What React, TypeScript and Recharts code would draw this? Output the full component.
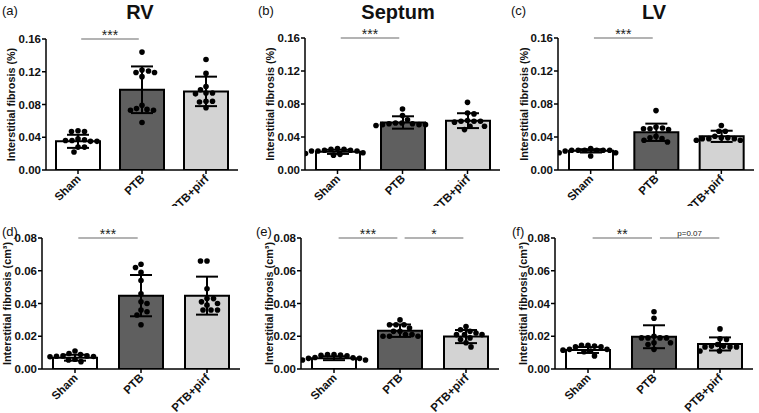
import React from 'react';
import { ComposedChart, Bar, Cell, ErrorBar, Scatter, XAxis, YAxis, ReferenceLine } from 'recharts';

const GROUPS = ['Sham', 'PTB', 'PTB+pirf'];
const BAR_FILLS = ['#ffffff', '#5f5f5f', '#d3d3d3'];

const PCT_TICKS = [0, 0.04, 0.08, 0.12, 0.16];
const VOL_TICKS = [0, 0.02, 0.04, 0.06, 0.08];

// (a) RV, interstitial fibrosis (%)
const rvPctMean = [0.035, 0.098, 0.096];
const rvPctSd = [0.008, 0.0285, 0.018];
const rvPctSham = [0.048, 0.047, 0.047, 0.038, 0.037, 0.035, 0.036, 0.036, 0.035, 0.028, 0.028, 0.022];
const rvPctPtb = [0.144, 0.122, 0.119, 0.119, 0.114, 0.121, 0.079, 0.074, 0.073, 0.073, 0.075, 0.058];
const rvPctPirf = [0.135, 0.118, 0.102, 0.098, 0.094, 0.093, 0.094, 0.084, 0.083, 0.084, 0.076];

// (b) Septum, interstitial fibrosis (%)
const sepPctMean = [0.022, 0.0576, 0.0598];
const sepPctSd = [0.0025, 0.0075, 0.009];
const sepPctSham = [0.023, 0.024, 0.023, 0.025, 0.026, 0.024, 0.025, 0.023, 0.021, 0.019, 0.02, 0.018];
const sepPctPtb = [0.074, 0.066, 0.061, 0.057, 0.056, 0.055, 0.055, 0.054, 0.055, 0.056, 0.057];
const sepPctPirf = [0.082, 0.068, 0.069, 0.06, 0.059, 0.059, 0.058, 0.059, 0.053, 0.053, 0.049];

// (c) LV, interstitial fibrosis (%)
const lvPctMean = [0.0232, 0.0457, 0.0408];
const lvPctSd = [0.002, 0.0105, 0.0068];
const lvPctSham = [0.024, 0.024, 0.023, 0.024, 0.026, 0.024, 0.024, 0.024, 0.021, 0.021, 0.017];
const lvPctPtb = [0.072, 0.052, 0.05, 0.049, 0.05, 0.051, 0.041, 0.039, 0.038, 0.036, 0.034];
const lvPctPirf = [0.054, 0.047, 0.047, 0.041, 0.039, 0.038, 0.038, 0.038, 0.039, 0.036, 0.036];

// (d) RV, interstitial fibrosis (cm3)
const rvVolMean = [0.0069, 0.0448, 0.0448];
const rvVolSd = [0.0018, 0.0126, 0.0116];
const rvVolSham = [0.011, 0.0089, 0.0095, 0.008, 0.008, 0.0076, 0.0075, 0.0078, 0.006, 0.0055, 0.0045];
const rvVolPtb = [0.062, 0.059, 0.064, 0.054, 0.046, 0.04, 0.041, 0.035, 0.036, 0.033, 0.027];
const rvVolPirf = [0.066, 0.066, 0.049, 0.043, 0.043, 0.04, 0.041, 0.039, 0.036, 0.036, 0.036];

// (e) Septum, interstitial fibrosis (cm3)
const sepVolMean = [0.0066, 0.0234, 0.0198];
const sepVolSd = [0.0012, 0.0038, 0.004];
const sepVolSham = [0.008, 0.0083, 0.0088, 0.0088, 0.0085, 0.007, 0.0065, 0.0065, 0.0068, 0.0055, 0.0055];
const sepVolPtb = [0.03, 0.027, 0.027, 0.027, 0.025, 0.023, 0.023, 0.021, 0.02, 0.02, 0.02, 0.021];
const sepVolPirf = [0.026, 0.023, 0.024, 0.021, 0.022, 0.021, 0.021, 0.019, 0.018, 0.016, 0.0135];

// (f) LV, interstitial fibrosis (cm3)
const lvVolMean = [0.0116, 0.0197, 0.0153];
const lvVolSd = [0.0018, 0.007, 0.004];
const lvVolSham = [0.012, 0.0135, 0.0145, 0.014, 0.0135, 0.0145, 0.012, 0.011, 0.0115, 0.0105, 0.008];
const lvVolPtb = [0.035, 0.031, 0.02, 0.019, 0.019, 0.019, 0.019, 0.016, 0.016, 0.012, 0.015];
const lvVolPirf = [0.0245, 0.018, 0.0185, 0.014, 0.0135, 0.014, 0.0135, 0.0135, 0.015, 0.011, 0.011];

type Sig = { from: number; to: number; text: string };

const sigA: Sig[] = [{ from: 0.05, to: 0.95, text: '***' }];
const sigE: Sig[] = [
  { from: 0.07, to: 0.96, text: '***' },
  { from: 1.07, to: 1.96, text: '*' },
];
const sigF: Sig[] = [
  { from: 0.07, to: 0.97, text: '**' },
  { from: 1.09, to: 1.99, text: 'p=0.07' },
];

// simple beeswarm so dots with close values sit side by side, like a scatter dot plot
function swarm(values: number[], gi: number, pxPerUnit: number, bandPx: number) {
  const D = 6.2;
  const placed: { ox: number; py: number }[] = [];
  const sorted = [...values].sort((a, b) => b - a);
  sorted.forEach((v, idx) => {
    const py = v * pxPerUnit;
    let ox = 0;
    for (let k = 0; k < 300; k++) {
      const sign = idx % 2 === 0 ? 1 : -1;
      const cands = k === 0 ? [0] : [sign * k * 0.5, -sign * k * 0.5];
      const hit = cands.find((c) => placed.every((p) => (c - p.ox) ** 2 + (py - p.py) ** 2 >= D * D));
      if (hit !== undefined) {
        ox = hit;
        break;
      }
    }
    placed.push({ ox, py });
  });
  return placed.map((p) => ({ x: gi + p.ox / bandPx, y: p.py / pxPerUnit }));
}

const CatTick = ({ x, y, payload }: any) => (
  <text
    x={x + 1}
    y={y + 1}
    dy="0.3em"
    textAnchor="end"
    transform={`rotate(-45 ${x + 1} ${y + 1})`}
    fontSize={11.5}
    fontWeight="bold"
    fill="#111"
  >
    {payload.value}
  </text>
);

const Dot = (p: any) => <circle cx={p.cx} cy={p.cy} r={2.8} fill="#000" />;

interface PanelProps {
  left: number;
  top: number;
  height: number;
  marginTop: number;
  marginRight: number;
  yWidth: number;
  xHeight: number;
  labelX: number;
  yLabel: string;
  max: number;
  ticks: number[];
  means: number[];
  sds: number[];
  points: number[][];
  sig: Sig[];
}

function Panel(p: PanelProps) {
  const width = 253;
  const plotW = width - p.yWidth - p.marginRight;
  const plotH = p.height - p.marginTop - p.xHeight;
  const band = plotW / 3;
  const data = GROUPS.map((name, i) => ({ name, mean: p.means[i], sd: p.sds[i] }));
  const dots = p.points.flatMap((vals, gi) => swarm(vals, gi, plotH / p.max, band));

  return (
    <div style={{ position: 'absolute', left: p.left, top: p.top, width, height: p.height }}>
      <ComposedChart
        width={width}
        height={p.height}
        data={data}
        margin={{ top: p.marginTop, right: p.marginRight, left: 0, bottom: 0 }}
      >
        <XAxis
          xAxisId={0}
          dataKey="name"
          type="category"
          height={p.xHeight}
          interval={0}
          axisLine={{ stroke: '#000', strokeWidth: 1.5 }}
          tickLine={{ stroke: '#000', strokeWidth: 1.5 }}
          tickSize={4}
          tick={<CatTick />}
        />
        <XAxis xAxisId={1} dataKey="x" type="number" domain={[-0.5, 2.5]} allowDataOverflow hide />
        <YAxis
          domain={[0, p.max]}
          ticks={p.ticks}
          interval={0}
          allowDataOverflow
          width={p.yWidth}
          tickFormatter={(v: number) => v.toFixed(2)}
          axisLine={{ stroke: '#000', strokeWidth: 1.5 }}
          tickLine={{ stroke: '#000', strokeWidth: 1.5 }}
          tickSize={4}
          tickMargin={1}
          tick={{ fontSize: 11.5, fontWeight: 'bold', fill: '#111' }}
          label={{
            value: p.yLabel,
            angle: -90,
            position: 'insideLeft',
            offset: p.labelX,
            style: { textAnchor: 'middle', fontSize: 10.8, fontWeight: 'bold', fill: '#111' },
          }}
        />
        <Bar xAxisId={0} dataKey="mean" barSize={44} stroke="#000" strokeWidth={2} isAnimationActive={false}>
          {data.map((_, i) => (
            <Cell key={i} fill={BAR_FILLS[i]} />
          ))}
          <ErrorBar dataKey="sd" width={11} stroke="#000" strokeWidth={2} />
        </Bar>
        <Scatter xAxisId={1} data={dots} dataKey="y" shape={<Dot />} isAnimationActive={false} />
        {p.sig.map((s, i) => {
          const isP = s.text.startsWith('p');
          return (
            <ReferenceLine
              key={i}
              xAxisId={1}
              segment={[
                { x: s.from, y: p.max },
                { x: s.to, y: p.max },
              ]}
              stroke="#9a9a9a"
              strokeWidth={1.5}
              ifOverflow="visible"
              label={{
                value: s.text,
                position: 'top',
                offset: isP ? 2 : -1,
                fontSize: isP ? 8 : 14,
                fill: '#222',
              }}
            />
          );
        })}
      </ComposedChart>
    </div>
  );
}

const labelStyle: React.CSSProperties = { position: 'absolute', fontSize: 13, lineHeight: '15px' };
const titleStyle: React.CSSProperties = {
  position: 'absolute',
  width: 140,
  textAlign: 'center',
  fontSize: 20,
  fontWeight: 'bold',
  lineHeight: '24px',
  top: 0,
};

export default function App() {
  const pct = 'Interstitial fibrosis (%)';
  const vol = 'Interstitial fibrosis (cm³)';
  return (
    <div
      style={{
        position: 'absolute',
        left: 0,
        top: 0,
        width: 759,
        height: 413,
        background: '#fff',
        fontFamily: 'Arial, "Liberation Sans", sans-serif',
        color: '#111',
        overflow: 'hidden',
      }}
    >
      <Panel left={0} top={0} height={206} marginTop={39} marginRight={15} yWidth={46} xHeight={36} labelX={11}
        yLabel={pct} max={0.16} ticks={PCT_TICKS} means={rvPctMean} sds={rvPctSd}
        points={[rvPctSham, rvPctPtb, rvPctPirf]} sig={sigA} />
      <Panel left={253} top={0} height={206} marginTop={38} marginRight={6} yWidth={52} xHeight={36} labelX={17.5}
        yLabel={pct} max={0.16} ticks={PCT_TICKS} means={sepPctMean} sds={sepPctSd}
        points={[sepPctSham, sepPctPtb, sepPctPirf]} sig={sigA} />
      <Panel left={506} top={0} height={206} marginTop={38} marginRight={5} yWidth={52} xHeight={36} labelX={18}
        yLabel={pct} max={0.16} ticks={PCT_TICKS} means={lvPctMean} sds={lvPctSd}
        points={[lvPctSham, lvPctPtb, lvPctPirf]} sig={sigA} />
      <Panel left={0} top={206} height={207} marginTop={32} marginRight={13} yWidth={42} xHeight={44} labelX={7.5}
        yLabel={vol} max={0.08} ticks={VOL_TICKS} means={rvVolMean} sds={rvVolSd}
        points={[rvVolSham, rvVolPtb, rvVolPirf]} sig={sigA} />
      <Panel left={253} top={206} height={207} marginTop={32} marginRight={7} yWidth={48} xHeight={44} labelX={16}
        yLabel={vol} max={0.08} ticks={VOL_TICKS} means={sepVolMean} sds={sepVolSd}
        points={[sepVolSham, sepVolPtb, sepVolPirf]} sig={sigE} />
      <Panel left={506} top={206} height={207} marginTop={32} marginRight={6} yWidth={49} xHeight={44} labelX={17}
        yLabel={vol} max={0.08} ticks={VOL_TICKS} means={lvVolMean} sds={lvVolSd}
        points={[lvVolSham, lvVolPtb, lvVolPirf]} sig={sigF} />

      <div style={{ ...titleStyle, left: 140 - 70 }}>RV</div>
      <div style={{ ...titleStyle, left: 398 - 70 }}>Septum</div>
      <div style={{ ...titleStyle, left: 654 - 70 }}>LV</div>

      <div style={{ ...labelStyle, left: 2, top: 3 }}>(a)</div>
      <div style={{ ...labelStyle, left: 258, top: 3 }}>(b)</div>
      <div style={{ ...labelStyle, left: 511, top: 3 }}>(c)</div>
      <div style={{ ...labelStyle, left: 2, top: 224 }}>(d)</div>
      <div style={{ ...labelStyle, left: 256, top: 224 }}>(e)</div>
      <div style={{ ...labelStyle, left: 512, top: 224 }}>(f)</div>
    </div>
  );
}
